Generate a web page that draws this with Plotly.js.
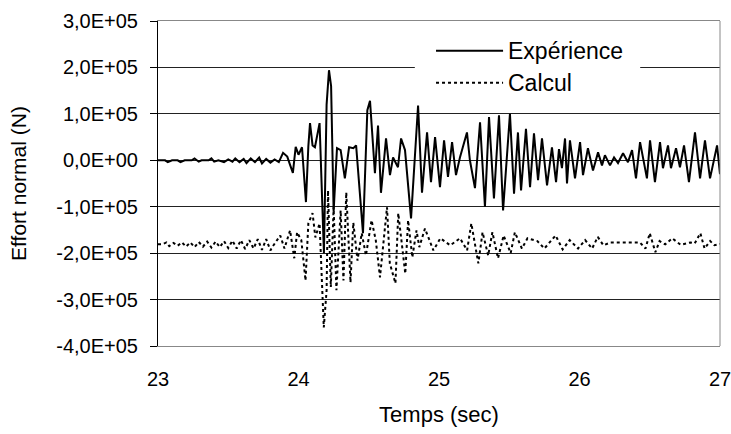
<!DOCTYPE html>
<html><head><meta charset="utf-8">
<script src="https://cdn.plot.ly/plotly-3.0.1.min.js"></script>
<style>html,body{margin:0;padding:0;background:#fff}#chart{width:731px;height:434px}</style>
</head><body><div id="chart"></div>
<script>
// Expérience (measured), time in s, force in kN
const experienceTime = [23.00,23.05,23.07,23.10,23.14,23.16,23.19,23.24,23.26,23.29,23.31,23.36,23.38,23.40,23.43,23.47,23.50,23.53,23.55,23.58,23.61,23.63,23.66,23.69,23.72,23.74,23.77,23.80,23.83,23.86,23.89,23.92,23.94,23.96,23.98,24.00,24.025,24.053,24.07,24.082,24.10,24.117,24.15,24.181,24.20,24.217,24.232,24.25,24.274,24.30,24.33,24.36,24.39,24.41,24.459,24.49,24.509,24.544,24.566,24.587,24.623,24.651,24.673,24.708,24.73,24.758,24.801,24.851,24.879,24.915,24.943,24.972,25.007,25.036,25.064,25.093,25.121,25.149,25.199,25.22,25.256,25.292,25.327,25.356,25.391,25.427,25.456,25.505,25.534,25.562,25.584,25.619,25.648,25.676,25.705,25.733,25.769,25.804,25.833,25.854,25.875,25.897,25.911,25.932,25.968,26.004,26.025,26.06,26.096,26.132,26.16,26.181,26.217,26.246,26.274,26.31,26.345,26.374,26.402,26.431,26.48,26.502,26.537,26.573,26.594,26.63,26.651,26.687,26.715,26.744,26.779,26.822,26.858,26.893,26.929,26.979,27.0];
const experienceKN = [0,0,-4,0,0,-4,0,0,4,-3,0,0,4,-3,0,-4,2,-3,4,-4,3,-6,4,-4,6,-7,3,-5,2,-4,16,8,-10,-27,29,12,28,-90,30,80,32,28,80,-200,120,194,160,-110,26,22,-39,28,26,32,-157,108,128,-28,75,-70,47,-32,6,-15,47,22,-125,118,-70,60,-47,50,-58,43,-36,39,-32,6,60,0,-60,82,-100,93,-82,97,-108,100,-72,60,-65,68,-58,58,-43,47,-54,28,-47,24,-17,47,-50,43,-39,39,-32,26,-22,17,-11,11,-11,6,-6,15,-4,22,-39,39,-39,43,-47,39,-17,32,-17,26,-15,32,-47,60,-39,43,-39,32,-30];

// Calcul (computed), time in s, force in kN
const calculTime = [23.00,23.03,23.06,23.08,23.11,23.14,23.17,23.20,23.23,23.26,23.29,23.32,23.35,23.38,23.41,23.44,23.47,23.50,23.53,23.56,23.59,23.62,23.65,23.68,23.71,23.74,23.77,23.80,23.82,23.87,23.90,23.94,23.97,23.99,24.02,24.05,24.07,24.10,24.12,24.15,24.18,24.20,24.21,24.23,24.25,24.27,24.30,24.32,24.34,24.37,24.39,24.42,24.45,24.48,24.52,24.55,24.58,24.61,24.63,24.65,24.69,24.71,24.74,24.76,24.78,24.81,24.84,24.86,24.90,24.96,25.01,25.08,25.15,25.20,25.23,25.28,25.31,25.35,25.38,25.42,25.46,25.51,25.54,25.59,25.63,25.70,25.75,25.83,25.88,25.93,25.99,26.04,26.09,26.13,26.17,26.22,26.43,26.47,26.50,26.54,26.57,26.61,26.66,26.72,26.79,26.82,26.86,26.89,26.93,26.96,27.00];
const calculKN = [-181,-181,-177,-185,-178,-184,-177,-186,-177,-187,-176,-186,-175,-188,-175,-187,-174,-189,-173,-190,-172,-191,-172,-190,-170,-193,-170,-194,-184,-162,-190,-151,-211,-155,-172,-259,-136,-114,-166,-136,-360,-280,-65,-273,-101,-280,-108,-259,-69,-263,-134,-216,-157,-205,-129,-172,-252,-157,-101,-222,-265,-114,-194,-244,-129,-209,-151,-187,-147,-194,-168,-183,-168,-194,-136,-222,-155,-205,-155,-211,-162,-200,-155,-190,-168,-174,-190,-162,-192,-172,-190,-172,-190,-165,-183,-177,-177,-190,-157,-198,-174,-181,-168,-182,-177,-179,-157,-190,-174,-183,-180];

const seriesNames = ["Expérience", "Calcul"];
const xTickValues = [23, 24, 25, 26, 27];
const yTickValues = [300000, 200000, 100000, 0, -100000, -200000, -300000, -400000];
const yTickLabels = ["3,0E+05", "2,0E+05", "1,0E+05", "0,0E+00", "-1,0E+05", "-2,0E+05", "-3,0E+05", "-4,0E+05"];

const FONT = "Liberation Sans, Arial, sans-serif";
const toN = kn => kn * 1000;

const traces = [
  {x: experienceTime, y: experienceKN.map(toN), name: seriesNames[0], type: "scatter", mode: "lines",
   line: {color: "#000", width: 2}, showlegend: false, hoverinfo: "x+y"},
  {x: calculTime, y: calculKN.map(toN), name: seriesNames[1], type: "scatter", mode: "lines",
   line: {color: "#000", width: 2, dash: "3px,3px"}, showlegend: false, hoverinfo: "x+y"}
];

// legend geometry (paper coords)
const lgX0 = 0.4947, lgX1 = 0.614, lgTextX = 0.619, lgY1 = 0.9086, lgY2 = 0.810;

const layout = {
  width: 731, height: 434,
  margin: {l: 158, r: 11, t: 21, b: 88, pad: 0},
  paper_bgcolor: "#fff", plot_bgcolor: "#fff",
  font: {family: FONT, size: 20, color: "#000"},
  xaxis: {
    range: [23, 27], tickvals: xTickValues, ticktext: xTickValues.map(String),
    ticks: "", showgrid: false, zeroline: false, ticklabeloverflow: "allow",
    showline: true, mirror: true, linecolor: "#888", linewidth: 1,
    ticklabelstandoff: 15, tickfont: {family: FONT, size: 20, color: "#000"},
    title: {text: "Temps (sec)", font: {family: FONT, size: 22, color: "#000"}, standoff: 17},
    automargin: false, fixedrange: true
  },
  yaxis: {
    range: [-400000, 300000], tickvals: yTickValues, ticktext: yTickLabels,
    ticks: "outside", ticklen: 7, tickcolor: "#000", tickwidth: 1,
    showgrid: true, gridcolor: "#222", gridwidth: 1, zeroline: false, ticklabeloverflow: "allow",
    showline: true, linecolor: "#000", linewidth: 1,
    ticklabelstandoff: 8, tickfont: {family: FONT, size: 20, color: "#000"},
    title: {text: "Effort normal (N)", font: {family: FONT, size: 21, color: "#000"}, standoff: 23},
    automargin: false, fixedrange: true
  },
  showlegend: false,
  shapes: [
    {type: "line", xref: "paper", yref: "paper", x0: 1, x1: 1, y0: 0, y1: 1, line: {color: "#888", width: 1}},
    {type: "rect", xref: "paper", yref: "paper", x0: 0.457, x1: 0.858, y0: 0.76, y1: 0.975,
     fillcolor: "#fff", line: {width: 0}, layer: "above"},
    {type: "line", xref: "paper", yref: "paper", x0: lgX0, x1: lgX1, y0: lgY1, y1: lgY1, line: {color: "#000", width: 2}},
    {type: "line", xref: "paper", yref: "paper", x0: lgX0, x1: lgX1, y0: lgY2, y1: lgY2, line: {color: "#000", width: 2, dash: "3px,3px"}}
  ],
  annotations: [
    {xref: "paper", yref: "paper", x: lgTextX, y: lgY1, xanchor: "left", yanchor: "middle", text: seriesNames[0], showarrow: false, font: {family: FONT, size: 23, color: "#000"}},
    {xref: "paper", yref: "paper", x: lgTextX, y: lgY2, xanchor: "left", yanchor: "middle", text: seriesNames[1], showarrow: false, font: {family: FONT, size: 23, color: "#000"}}
  ]
};

Plotly.newPlot("chart", traces, layout, {displayModeBar: false, staticPlot: true});
</script></body></html>
